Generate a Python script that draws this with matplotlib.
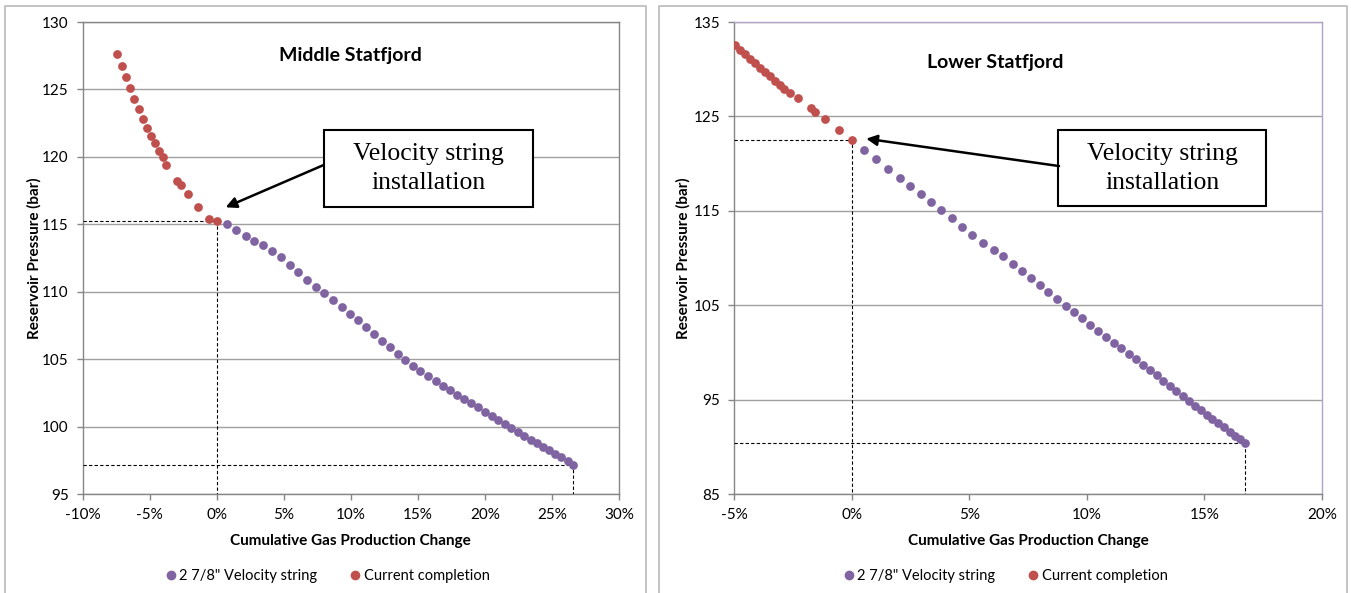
import matplotlib
matplotlib.use('agg')
import matplotlib.pyplot as plt
import matplotlib.patches as mpatches
from matplotlib.lines import Line2D
from matplotlib.ticker import MultipleLocator, FuncFormatter
import numpy as np

W, H = 1351, 593
DPI = 100

PURPLE = '#8064A2'
RED = '#C0504D'
GRID = '#A0A0A0'
AXIS = '#868686'
FRAME = '#BFBFBF'
SANS = 'Lato'
SERIF = 'Liberation Serif'

# ---- Middle Statfjord ----
mid_vs_x = [0.75, 1.47, 2.16, 2.81, 3.46, 4.10, 4.78, 5.45, 6.09, 6.77,
            7.41, 8.03, 8.68, 9.33, 9.93, 10.52, 11.12, 11.72, 12.31, 12.91,
            13.51, 14.08, 14.63, 15.20, 15.77, 16.32, 16.89, 17.41, 17.94, 18.46,
            18.98, 19.48, 20.00, 20.50, 21.00, 21.49, 21.97, 22.46, 22.94, 23.41,
            23.88, 24.35, 24.80, 25.25, 25.70, 26.17, 26.59]
mid_vs_p = [115.00, 114.60, 114.16, 113.79, 113.44, 113.02, 112.58, 112.00, 111.44, 110.90,
            110.33, 109.88, 109.41, 108.89, 108.37, 107.90, 107.36, 106.86, 106.37, 105.88,
            105.41, 104.94, 104.52, 104.12, 103.75, 103.38, 103.03, 102.71, 102.36, 102.04,
            101.72, 101.42, 101.10, 100.81, 100.46, 100.16, 99.87, 99.57, 99.30, 99.03,
            98.75, 98.48, 98.23, 97.96, 97.72, 97.44, 97.17]
mid_cc_x = [-7.44, -7.06, -6.77, -6.44, -6.14, -5.82, -5.52, -5.22, -4.93, -4.63,
            -4.33, -4.03, -3.76, -2.99, -2.69, -2.16, -1.37, -0.60, 0.05]
mid_cc_p = [127.66, 126.77, 125.95, 125.11, 124.30, 123.53, 122.84, 122.17, 121.58, 121.01,
            120.46, 119.97, 119.43, 118.24, 117.89, 117.22, 116.26, 115.37, 115.22]

# ---- Lower Statfjord ----
low_vs_x = [0.52, 1.03, 1.54, 2.04, 2.50, 2.95, 3.38, 3.82, 4.25, 4.69,
            5.13, 5.57, 6.04, 6.44, 6.85, 7.23, 7.62, 8.00, 8.37, 8.74,
            9.10, 9.45, 9.81, 10.15, 10.49, 10.83, 11.16, 11.47, 11.79, 12.08,
            12.38, 12.68, 12.97, 13.25, 13.52, 13.80, 14.08, 14.33, 14.59, 14.84,
            15.10, 15.34, 15.58, 15.83, 16.07, 16.29, 16.52, 16.72]
low_vs_p = [121.44, 120.48, 119.47, 118.51, 117.63, 116.78, 115.93, 115.09, 114.21, 113.33,
            112.41, 111.56, 110.82, 110.16, 109.35, 108.58, 107.84, 107.10, 106.37, 105.67,
            104.96, 104.30, 103.63, 102.93, 102.30, 101.67, 101.00, 100.44, 99.84, 99.28,
            98.68, 98.09, 97.56, 97.00, 96.47, 95.95, 95.42, 94.89, 94.37, 93.88,
            93.42, 92.93, 92.51, 92.05, 91.60, 91.18, 90.79, 90.40]
low_cc_x = [-4.97, -4.75, -4.54, -4.33, -4.11, -3.90, -3.69, -3.48, -3.27, -3.05,
            -2.86, -2.64, -2.30, -1.74, -1.54, -1.15, -0.55, 0.00]
low_cc_p = [132.58, 132.05, 131.60, 131.10, 130.64, 130.15, 129.69, 129.23, 128.74, 128.28,
            127.86, 127.43, 126.98, 125.85, 125.49, 124.68, 123.59, 122.53]

legend_labels = ['2 7/8" Velocity string', 'Current completion']
box_text = 'Velocity string\ninstallation'


def px_rect(x0, y0, x1, y1):
    """pixel box (top-left origin) -> figure fraction [l, b, w, h]"""
    return [x0 / W, 1 - y1 / H, (x1 - x0) / W, (y1 - y0) / H]


def draw_panel(fig, cfg):
    # panel frame (open at the bottom, like the cropped original)
    fx0, fx1 = cfg['frame']
    fy0 = 6
    fig.add_artist(Line2D([fx0 / W, fx0 / W, fx1 / W, fx1 / W],
                          [0, 1 - fy0 / H, 1 - fy0 / H, 0],
                          transform=fig.transFigure, color=FRAME, lw=1.3))

    ax = fig.add_axes(px_rect(*cfg['plot']))
    ax.plot(cfg['vs_x'], cfg['vs_p'], 'o', color=PURPLE, ms=6.3, mew=0, zorder=4)
    ax.plot(cfg['cc_x'], cfg['cc_p'], 'o', color=RED, ms=6.3, mew=0, zorder=4)

    # dashed guide lines to the start and end points
    sx, sp = cfg['cc_x'][-1], cfg['cc_p'][-1]
    ex, ep = cfg['vs_x'][-1], cfg['vs_p'][-1]
    x0, y0 = cfg['xlim'][0], cfg['ylim'][0]
    dash = dict(color='black', lw=0.8, ls=(0, (3, 2)), zorder=3)
    ax.plot([x0, sx, sx], [sp, sp, y0], **dash)
    ax.plot([x0, ex, ex], [ep, ep, y0], **dash)

    ax.set_xlim(cfg['xlim'])
    ax.set_ylim(cfg['ylim'])
    ax.xaxis.set_major_locator(MultipleLocator(5))
    ax.set_yticks(np.arange(cfg['ylim'][0], cfg['ylim'][1] + 1, cfg['ystep']))
    ax.xaxis.set_major_formatter(FuncFormatter(lambda v, p: f'{v:.0f}%'))
    ax.yaxis.grid(True, color=GRID, lw=1)
    ax.set_axisbelow(True)
    ax.tick_params(axis='both', direction='out', length=4, width=1, color=AXIS,
                   labelsize=11, pad=6)
    for lab in ax.get_xticklabels() + ax.get_yticklabels():
        lab.set_family(SANS)
    for side in ['left', 'bottom']:
        ax.spines[side].set_color(AXIS)
    for side in ['top', 'right']:
        ax.spines[side].set_color(cfg['edge'])
    for sp_ in ax.spines.values():
        sp_.set_linewidth(1)

    ax.set_xlabel('Cumulative Gas Production Change', family=SANS,
                  fontweight='bold', fontsize=11, labelpad=9)
    ax.set_ylabel('Reservoir Pressure (bar)', family=SANS,
                  fontweight='bold', fontsize=11, labelpad=cfg['ylabelpad'])
    ax.text(cfg['title_xy'][0], cfg['title_xy'][1], cfg['title'], family=SANS,
            fontweight='bold', fontsize=14, ha='center', va='center')

    # callout box and arrow
    bx0, bx1, by0, by1 = cfg['box']
    ax.add_patch(mpatches.Rectangle((bx0, by0), bx1 - bx0, by1 - by0,
                                    fc='white', ec='black', lw=1.5, zorder=5))
    ax.text((bx0 + bx1) / 2, (by0 + by1) / 2, box_text, family=SERIF,
            fontsize=18.5, ha='center', va='center', linespacing=1.4, zorder=6)
    ax.annotate('', xy=cfg['arrow_tip'], xytext=cfg['arrow_start'],
                arrowprops=dict(arrowstyle='-|>', color='black', lw=1.8,
                                mutation_scale=16, shrinkA=0, shrinkB=0),
                zorder=6)

    handles = [Line2D([], [], ls='', marker='o', ms=7, mew=0, color=PURPLE),
               Line2D([], [], ls='', marker='o', ms=7, mew=0, color=RED)]
    fig.legend(handles, legend_labels, loc='center',
               bbox_to_anchor=(cfg['legend_x'] / W, 1 - 576 / H), ncol=2,
               frameon=False, handletextpad=0.0, columnspacing=2.0,
               handlelength=1.2, prop={'family': SANS, 'size': 10.5})
    return ax


fig = plt.figure(figsize=(W / DPI, H / DPI), dpi=DPI)

draw_panel(fig, dict(
    frame=(5, 646), plot=(82.5, 22, 619, 494),
    vs_x=mid_vs_x, vs_p=mid_vs_p, cc_x=mid_cc_x, cc_p=mid_cc_p,
    xlim=(-10, 30), ylim=(95, 130), ystep=5, edge=AXIS, ylabelpad=0,
    title='Middle Statfjord', title_xy=(10.0, 127.5),
    box=(7.99, 23.6, 116.26, 121.97),
    arrow_start=(7.99, 119.4), arrow_tip=(0.67, 116.26),
    legend_x=326))

draw_panel(fig, dict(
    frame=(659, 1347), plot=(734, 22, 1322, 494),
    vs_x=low_vs_x, vs_p=low_vs_p, cc_x=low_cc_x, cc_p=low_cc_p,
    xlim=(-5, 20), ylim=(85, 135), ystep=10, edge='#B3A2C7', ylabelpad=2,
    title='Lower Statfjord', title_xy=(6.1, 130.7),
    box=(8.78, 17.64, 115.48, 123.52),
    arrow_start=(8.82, 119.74), arrow_tip=(0.62, 122.64),
    legend_x=1004))

fig.savefig('out.png', dpi=DPI)
